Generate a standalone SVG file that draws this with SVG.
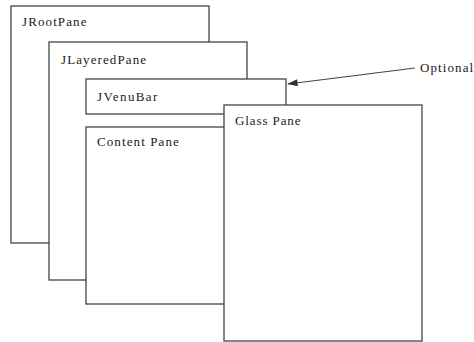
<svg xmlns="http://www.w3.org/2000/svg" width="474" height="342" viewBox="0 0 474 342">
<style>
.pane{fill:#fff;stroke:#444;stroke-width:1.3}
.lbl{font-family:"Liberation Serif","Times New Roman",serif;font-size:13px;letter-spacing:1.1px;fill:#1a1a1a}
.conn{stroke:#444;stroke-width:1.2;fill:none}
</style>
<defs>
<marker id="ah" viewBox="0 0 12 8" refX="11" refY="4" markerWidth="12" markerHeight="7" markerUnits="userSpaceOnUse" orient="auto">
<path d="M0,0 L12,4 L0,8 z" fill="#333"/>
</marker>
</defs>
<rect width="474" height="342" fill="#fff"/>
<g id="jrootpane"><rect class="pane" x="11" y="6" width="198" height="237"/><text class="lbl" x="22" y="26">JRootPane</text></g>
<g id="jlayeredpane"><rect class="pane" x="49" y="42" width="198" height="238"/><text class="lbl" x="61" y="64">JLayeredPane</text></g>
<g id="jmenubar"><rect class="pane" x="86" y="79" width="200" height="35"/><text class="lbl" x="97" y="101" style="letter-spacing:1.4px">JVenuBar</text></g>
<g id="contentpane"><rect class="pane" x="86" y="127" width="200" height="177"/><text class="lbl" x="97" y="146">Content Pane</text></g>
<g id="glasspane"><rect class="pane" x="224" y="105" width="198" height="236"/><text class="lbl" x="235" y="125" style="letter-spacing:0.9px">Glass Pane</text></g>
<g id="optional"><text class="lbl" x="420" y="72">Optional</text></g>
<g id="connectors"><line class="conn" x1="415" y1="68" x2="288" y2="84" marker-end="url(#ah)"/></g>
</svg>
